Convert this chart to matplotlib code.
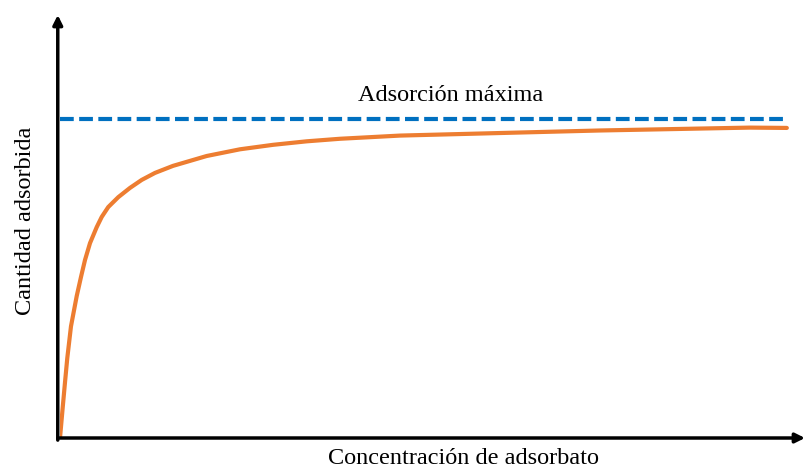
import matplotlib.pyplot as plt
import numpy as np

# Values (arbitrary units)
concentracion = [0, 0.35, 0.69, 1.0, 1.51, 2.30, 2.89, 3.44, 4.13, 5.05,
                 5.74, 6.64, 8.02, 9.63, 11.24, 13.07, 15.54, 20.18, 24.76,
                 29.30, 33.93, 38.51, 46.77, 60.5, 74.3, 88.0, 94.9, 100.0]
cantidad = [0, 0.09, 0.175, 0.25, 0.35, 0.445, 0.505, 0.558, 0.611, 0.661,
            0.693, 0.724, 0.755, 0.784, 0.809, 0.831, 0.853, 0.884, 0.905,
            0.919, 0.930, 0.938, 0.948, 0.956, 0.964, 0.970, 0.973, 0.972]
q_max = 1.0
x_max_line = 100.2

plt.rcParams['font.family'] = ['Liberation Serif', 'DejaVu Serif']

fig = plt.figure(figsize=(8.04, 4.68), dpi=100)
ax = fig.add_axes([60 / 804, 30 / 468, 745 / 804, 423 / 468])
ax.set_xlim(0, 102.5)
ax.set_ylim(0, 1.326)
for s in ax.spines.values():
    s.set_visible(False)
ax.set_xticks([])
ax.set_yticks([])

# Axes with arrows
ax.annotate('', xy=(1.0, 0), xytext=(-0.003, 0), xycoords='axes fraction',
            arrowprops=dict(arrowstyle='-|>', color='black', lw=2.5,
                            mutation_scale=14, shrinkA=0, shrinkB=0))
ax.annotate('', xy=(-0.003, 1.0), xytext=(-0.003, -0.005), xycoords='axes fraction',
            arrowprops=dict(arrowstyle='-|>', color='black', lw=2.5,
                            mutation_scale=14, shrinkA=0, shrinkB=0))

ax.plot([0, x_max_line], [q_max, q_max], color='#0070C0', lw=3,
        linestyle=(0, (3.3, 1.3)))
ax.plot(concentracion, cantidad, color='#ED7D31', lw=3, solid_capstyle='round',
        solid_joinstyle='round')

ax.text(53.7, 1.056, 'Adsorción máxima', fontsize=17.5, ha='center',
        va='baseline')

fig.text(464 / 804, 1 - 464 / 468, 'Concentración de adsorbato', fontsize=17.5,
         ha='center', va='baseline')
fig.text(26 / 804, 1 - 221 / 468, 'Cantidad adsorbida', fontsize=17.5,
         ha='center', va='center', rotation=90)

fig.savefig('out.png', dpi=100)
